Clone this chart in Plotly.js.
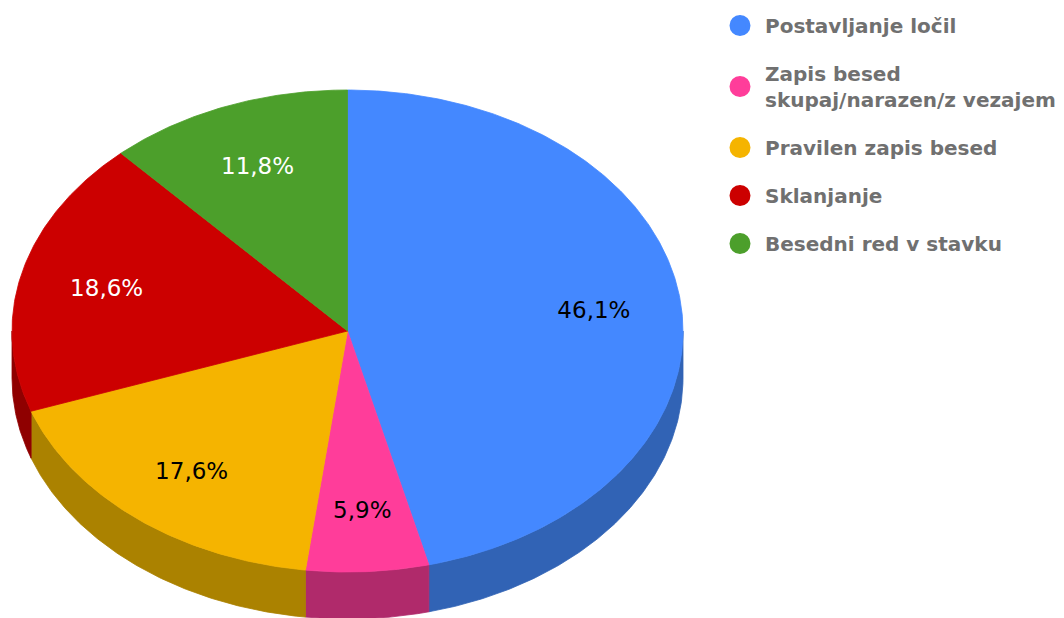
<!DOCTYPE html>
<html>
<head>
<meta charset="utf-8">
<script src="https://cdn.plot.ly/plotly-3.0.1.min.js"></script>
<style>html,body{margin:0;padding:0;background:#fff;}#chart{width:1064px;height:618px;}</style>
</head>
<body>
<div id="chart"></div>
<script>
// ---- data ----
const labels = ['Postavljanje ločil', 'Zapis besed<br>skupaj/narazen/z vezajem', 'Pravilen zapis besed', 'Sklanjanje', 'Besedni red v stavku'];
const values = [46.1, 5.9, 17.6, 18.6, 11.8];
const colors = ['#4488ff', '#ff3d9a', '#f5b400', '#cc0000', '#4c9f2b'];
const sideColors = ['#3163b5', '#b02a6b', '#ab8200', '#8f0000', '#33701d'];
const textColors = ['#000000', '#000000', '#000000', '#ffffff', '#ffffff'];

// ---- geometry (layout) ----
const W = 1064, H = 618;
const CX = 347.5, CY = 331, RX = 335.5, RY = 241, DEPTH = 47;
const LABEL_R = 0.74, LABEL_DY = 3;
const FONT = '"DejaVu Sans", Verdana, sans-serif';

function pt(deg, dy) {
  const r = deg * Math.PI / 180;
  return [CX + RX * Math.sin(r), CY - RY * Math.cos(r) + (dy || 0)];
}

const total = values.reduce((a, b) => a + b, 0);
const starts = [], ends = [];
let acc = 0;
values.forEach(v => { starts.push(acc / total * 360); acc += v; ends.push(acc / total * 360); });

const traces = [];

// side walls (front half only: 90..270 deg)
values.forEach((v, i) => {
  const a = Math.max(starts[i], 90), b = Math.min(ends[i], 270);
  if (b <= a) return;
  const xs = [], ys = [];
  const n = Math.max(2, Math.ceil((b - a) / 0.5));
  for (let k = 0; k <= n; k++) { const p = pt(a + (b - a) * k / n, 0); xs.push(p[0]); ys.push(p[1]); }
  for (let k = n; k >= 0; k--) { const p = pt(a + (b - a) * k / n, DEPTH); xs.push(p[0]); ys.push(p[1]); }
  xs.push(xs[0]); ys.push(ys[0]);
  traces.push({type: 'scatter', mode: 'lines', x: xs, y: ys, fill: 'toself', fillcolor: sideColors[i],
    line: {color: sideColors[i], width: 0.8}, hoverinfo: 'skip', showlegend: false});
});

// top face wedges
values.forEach((v, i) => {
  const a = starts[i], b = ends[i];
  const xs = [CX], ys = [CY];
  const n = Math.max(2, Math.ceil((b - a) / 0.5));
  for (let k = 0; k <= n; k++) { const p = pt(a + (b - a) * k / n, 0); xs.push(p[0]); ys.push(p[1]); }
  xs.push(CX); ys.push(CY);
  traces.push({type: 'scatter', mode: 'lines', x: xs, y: ys, fill: 'toself', fillcolor: colors[i],
    line: {color: colors[i], width: 0.8}, name: labels[i], hoverinfo: 'name', showlegend: false});
});

// labels
const lx = [], ly = [], lt = [];
values.forEach((v, i) => {
  const mid = (starts[i] + ends[i]) / 2;
  const r = mid * Math.PI / 180;
  lx.push(CX + LABEL_R * RX * Math.sin(r));
  ly.push(CY - LABEL_R * RY * Math.cos(r) + LABEL_DY);
  lt.push(v.toFixed(1).replace('.', ',') + '%');
});
traces.push({type: 'scatter', mode: 'text', x: lx, y: ly, text: lt, textposition: 'middle center',
  textfont: {family: FONT, size: 23, color: textColors}, hoverinfo: 'skip', showlegend: false});

// legend entries
labels.forEach((l, i) => {
  traces.push({type: 'scatter', mode: 'markers', x: [null], y: [null], name: l, legendgroup: 'g' + i,
    marker: {symbol: 'circle', size: 16, color: colors[i], line: {color: colors[i], width: 5}},
    showlegend: true, hoverinfo: 'skip'});
});

const layout = {
  width: W, height: H,
  margin: {l: 0, r: 0, t: 0, b: 0, pad: 0},
  paper_bgcolor: '#ffffff', plot_bgcolor: '#ffffff',
  xaxis: {range: [0, W], visible: false, fixedrange: true},
  yaxis: {range: [H, 0], visible: false, fixedrange: true},
  showlegend: true,
  legend: {x: 715 / W, xanchor: 'left', y: 1 - 6 / H, yanchor: 'top', tracegroupgap: 19, itemwidth: 40,
    font: {family: FONT, size: 20, color: '#707070', weight: 'bold'}, bgcolor: 'rgba(0,0,0,0)'},
  hovermode: 'closest'
};

Plotly.newPlot('chart', traces, layout, {displayModeBar: false});
</script>
</body>
</html>
